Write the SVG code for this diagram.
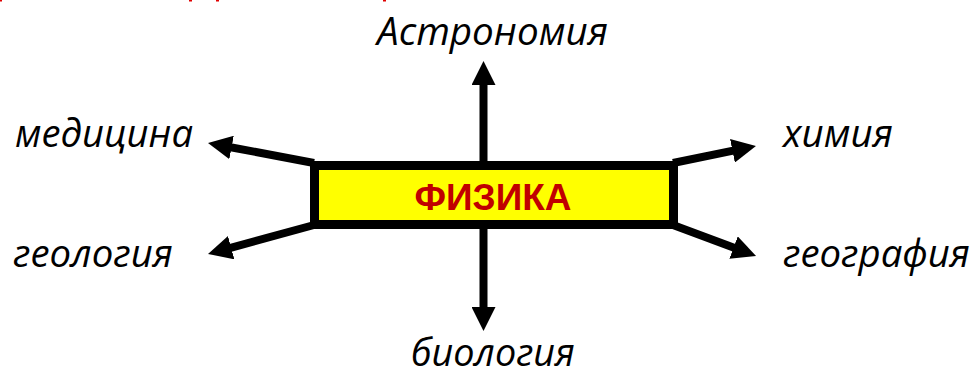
<svg xmlns="http://www.w3.org/2000/svg" width="978" height="377" viewBox="0 0 978 377">
  <style>
    .lbl { font-family: "Open Sans", "Liberation Sans", sans-serif; font-style: italic; font-size: 38px; fill: #000; }
    .title { font-family: "Liberation Sans", "Open Sans", sans-serif; font-weight: bold; font-size: 37px; fill: #c00000; }
    .conn { stroke: #000; stroke-width: 8; fill: none; marker-end: url(#head); }
  </style>
  <defs>
    <marker id="head" markerUnits="userSpaceOnUse" markerWidth="24" markerHeight="24" refX="12" refY="12" orient="auto" viewBox="0 0 24 24">
      <path d="M0,0 L24,12 L0,24 Z" fill="#000"/>
    </marker>
  </defs>

  <!-- clipped red heading remnants along the top edge -->
  <g id="heading-remnants" fill="#e00000">
    <rect x="0" y="0" width="2" height="1.5"/>
    <rect x="189" y="0" width="3" height="1.5"/>
    <rect x="216" y="0" width="3" height="1.5"/>
    <rect x="383" y="0" width="3" height="1.5"/>
  </g>

  <g id="connectors">
    <line class="conn" x1="483.5" y1="162" x2="483.5" y2="73"/>
    <line class="conn" x1="483.5" y1="228" x2="483.5" y2="319"/>
    <line class="conn" x1="314" y1="163" x2="219.8" y2="145.2"/>
    <line class="conn" x1="314" y1="225" x2="219.6" y2="250.8"/>
    <line class="conn" x1="673" y1="163" x2="744.2" y2="148.4"/>
    <line class="conn" x1="673" y1="225" x2="744.8" y2="251.8"/>
  </g>

  <g id="fizika">
    <rect x="314.5" y="165.5" width="359" height="59" fill="#ffff00" stroke="#000" stroke-width="9"/>
    <text class="title" x="493" y="210" text-anchor="middle" textLength="157" lengthAdjust="spacingAndGlyphs">ФИЗИКА</text>
  </g>

  <g id="astronomiya">
    <text class="lbl" x="377" y="45" textLength="231" lengthAdjust="spacingAndGlyphs">Астрономия</text>
  </g>
  <g id="meditsina">
    <text class="lbl" x="15" y="147" textLength="178" lengthAdjust="spacingAndGlyphs">медицина</text>
  </g>
  <g id="khimiya">
    <text class="lbl" x="783" y="147" textLength="110" lengthAdjust="spacingAndGlyphs">химия</text>
  </g>
  <g id="geologiya">
    <text class="lbl" x="13" y="267" textLength="160" lengthAdjust="spacingAndGlyphs">геология</text>
  </g>
  <g id="geografiya">
    <text class="lbl" x="783" y="267" textLength="187" lengthAdjust="spacingAndGlyphs">география</text>
  </g>
  <g id="biologiya">
    <text class="lbl" x="411" y="366" font-size="37" textLength="164" lengthAdjust="spacingAndGlyphs">биология</text>
  </g>
</svg>
